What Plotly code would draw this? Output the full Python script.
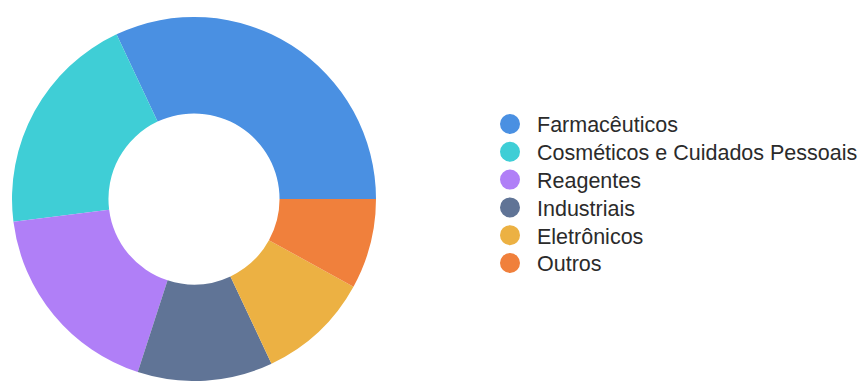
import plotly.graph_objects as go

categories = ["Farmacêuticos", "Cosméticos e Cuidados Pessoais", "Reagentes",
              "Industriais", "Eletrônicos", "Outros"]
values = [32, 20, 18, 12, 10, 8]
colors = ["#4A90E2", "#3FCED6", "#B07FF7", "#607496", "#ECB143", "#F0803C"]

W, H = 861, 381
fig = go.Figure()

# Donut: first slice starts at 3 o'clock and runs counterclockwise.
# Plotly places the first counterclockwise slice clockwise of `rotation`,
# so shift by the first slice's angle.
first_angle = values[0] / sum(values) * 360
cx, cy, r = 194, 199, 182
fig.add_trace(go.Pie(
    labels=categories, values=values, hole=0.47,
    marker=dict(colors=colors, line=dict(width=0)),
    sort=False, direction="counterclockwise", rotation=90 - first_angle,
    textinfo="none", showlegend=False,
    domain=dict(x=[(cx - r) / W, (cx + r) / W], y=[(H - (cy + r)) / H, (H - (cy - r)) / H]),
))

# Legend entries (one legend per entry for exact row spacing)
leg_x = 483
leg_y0 = 124
leg_dy = 27.8
layout_legends = {}
for i, (name, col) in enumerate(zip(categories, colors)):
    key = "legend" if i == 0 else f"legend{i + 1}"
    fig.add_trace(go.Scatter(
        x=[None], y=[None], mode="markers", name=name,
        marker=dict(color=col, size=16, symbol="circle", line=dict(color=col, width=4)),
        showlegend=True, legend=key, hoverinfo="skip",
    ))
    layout_legends[key] = dict(
        xref="paper", yref="paper",
        x=leg_x / W, y=1 - (leg_y0 + i * leg_dy) / H,
        xanchor="left", yanchor="middle",
        itemwidth=44, bgcolor="rgba(0,0,0,0)", borderwidth=0,
        font=dict(family="Liberation Sans, Arial, sans-serif", size=21.5, color="#2b2b2b"),
    )

fig.update_layout(
    width=W, height=H,
    margin=dict(l=0, r=0, t=0, b=0, autoexpand=False),
    paper_bgcolor="white", plot_bgcolor="white",
    xaxis=dict(visible=False), yaxis=dict(visible=False),
    **layout_legends,
)

fig.write_html("out.html")
